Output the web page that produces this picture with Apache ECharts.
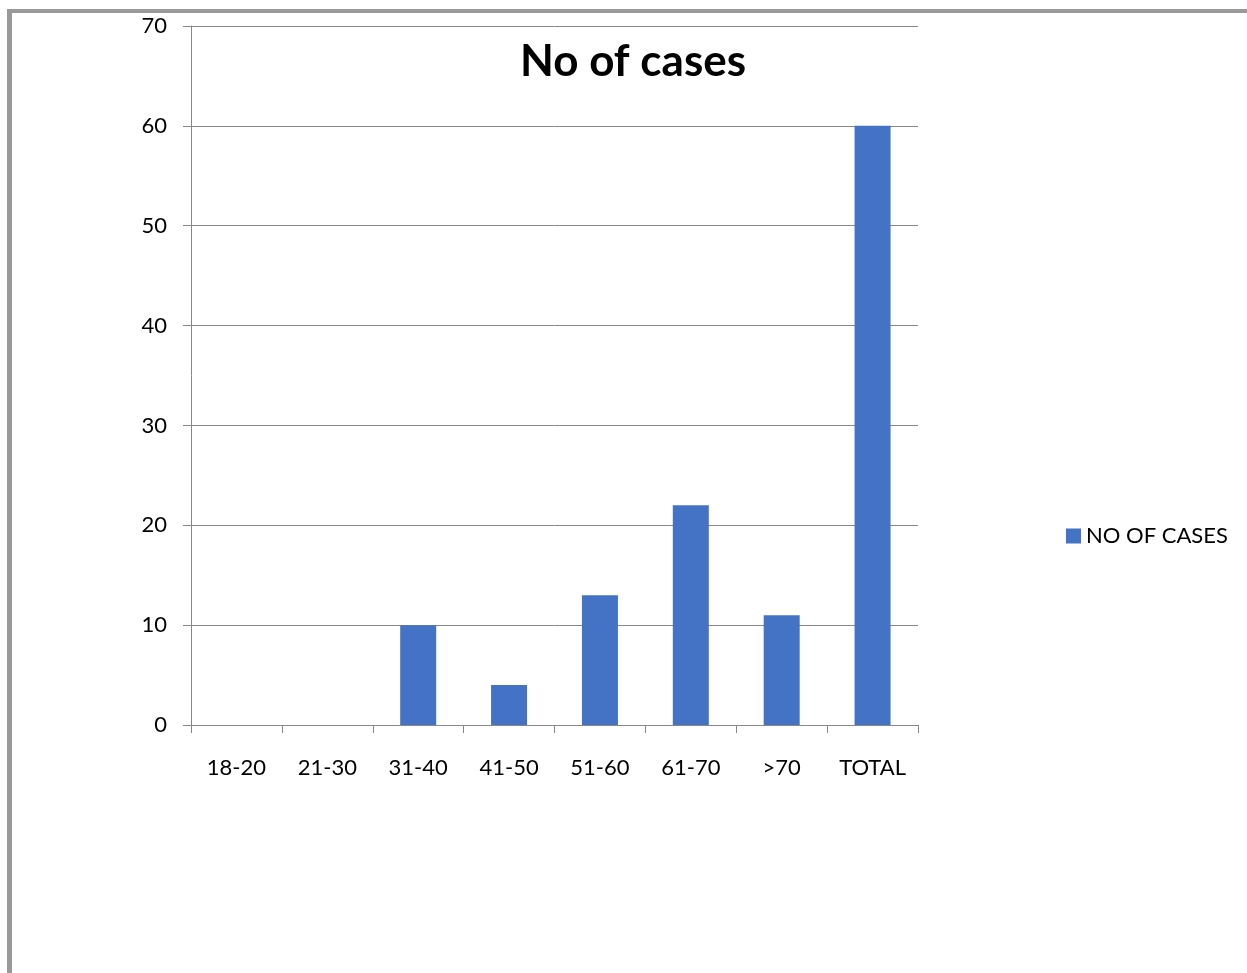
<!DOCTYPE html>
<html>
<head>
<meta charset="utf-8">
<script src="https://cdn.jsdelivr.net/npm/echarts@6/dist/echarts.min.js"></script>
<style>
  html, body { margin: 0; padding: 0; background: #fff; }
  #frame {
    position: absolute; left: 7px; top: 9px; width: 1260px; height: 1000px;
    border-left: 5px solid #999; border-top: 4px solid #999; box-sizing: border-box;
  }
  #chart { position: absolute; left: 0; top: 0; width: 1247px; height: 973px; }
</style>
</head>
<body>
<div id="frame"></div>
<div id="chart"></div>
<script>
// Age groups and number of cases
const categories = ['18-20', '21-30', '31-40', '41-50', '51-60', '61-70', '>70', 'TOTAL'];
const cases = [0, 0, 10, 4, 13, 22, 11, 60];
const seriesName = 'NO OF CASES';
const chartTitle = 'No of cases';

const FONT = 'Lato, "Noto Sans", sans-serif';
const chart = echarts.init(document.getElementById('chart'), null, { renderer: 'canvas' });

chart.setOption({
  backgroundColor: 'transparent',
  animation: false,
  title: {
    text: chartTitle,
    left: 628, top: 35, textAlign: 'center',
    textStyle: { fontFamily: FONT, fontWeight: 'bold', fontSize: 44, color: '#000' }
  },
  legend: {
    data: [seriesName],
    left: 1061, top: 520,
    itemWidth: 15, itemHeight: 15, itemGap: 8,
    icon: 'rect',
    textStyle: { fontFamily: FONT, fontSize: 22, color: '#000' }
  },
  grid: { left: 191, top: 26, right: 329, bottom: 248, containLabel: false },
  xAxis: {
    type: 'category',
    data: categories,
    axisLine: { lineStyle: { color: '#888', width: 1 } },
    axisTick: { show: true, length: 8, lineStyle: { color: '#888' } },
    axisLabel: { fontFamily: FONT, fontSize: 22, color: '#000', margin: 32 }
  },
  yAxis: {
    type: 'value',
    min: 0, max: 70, interval: 10,
    axisLine: { show: true, lineStyle: { color: '#888', width: 1 } },
    axisTick: { show: true, length: 8, lineStyle: { color: '#888' } },
    splitLine: { show: true, lineStyle: { color: '#888', width: 1 } },
    axisLabel: { fontFamily: FONT, fontSize: 22, color: '#000', margin: 24 }
  },
  series: [{
    name: seriesName,
    type: 'bar',
    data: cases,
    barWidth: 36,
    itemStyle: { color: '#4472C4' }
  }]
});
</script>
</body>
</html>
